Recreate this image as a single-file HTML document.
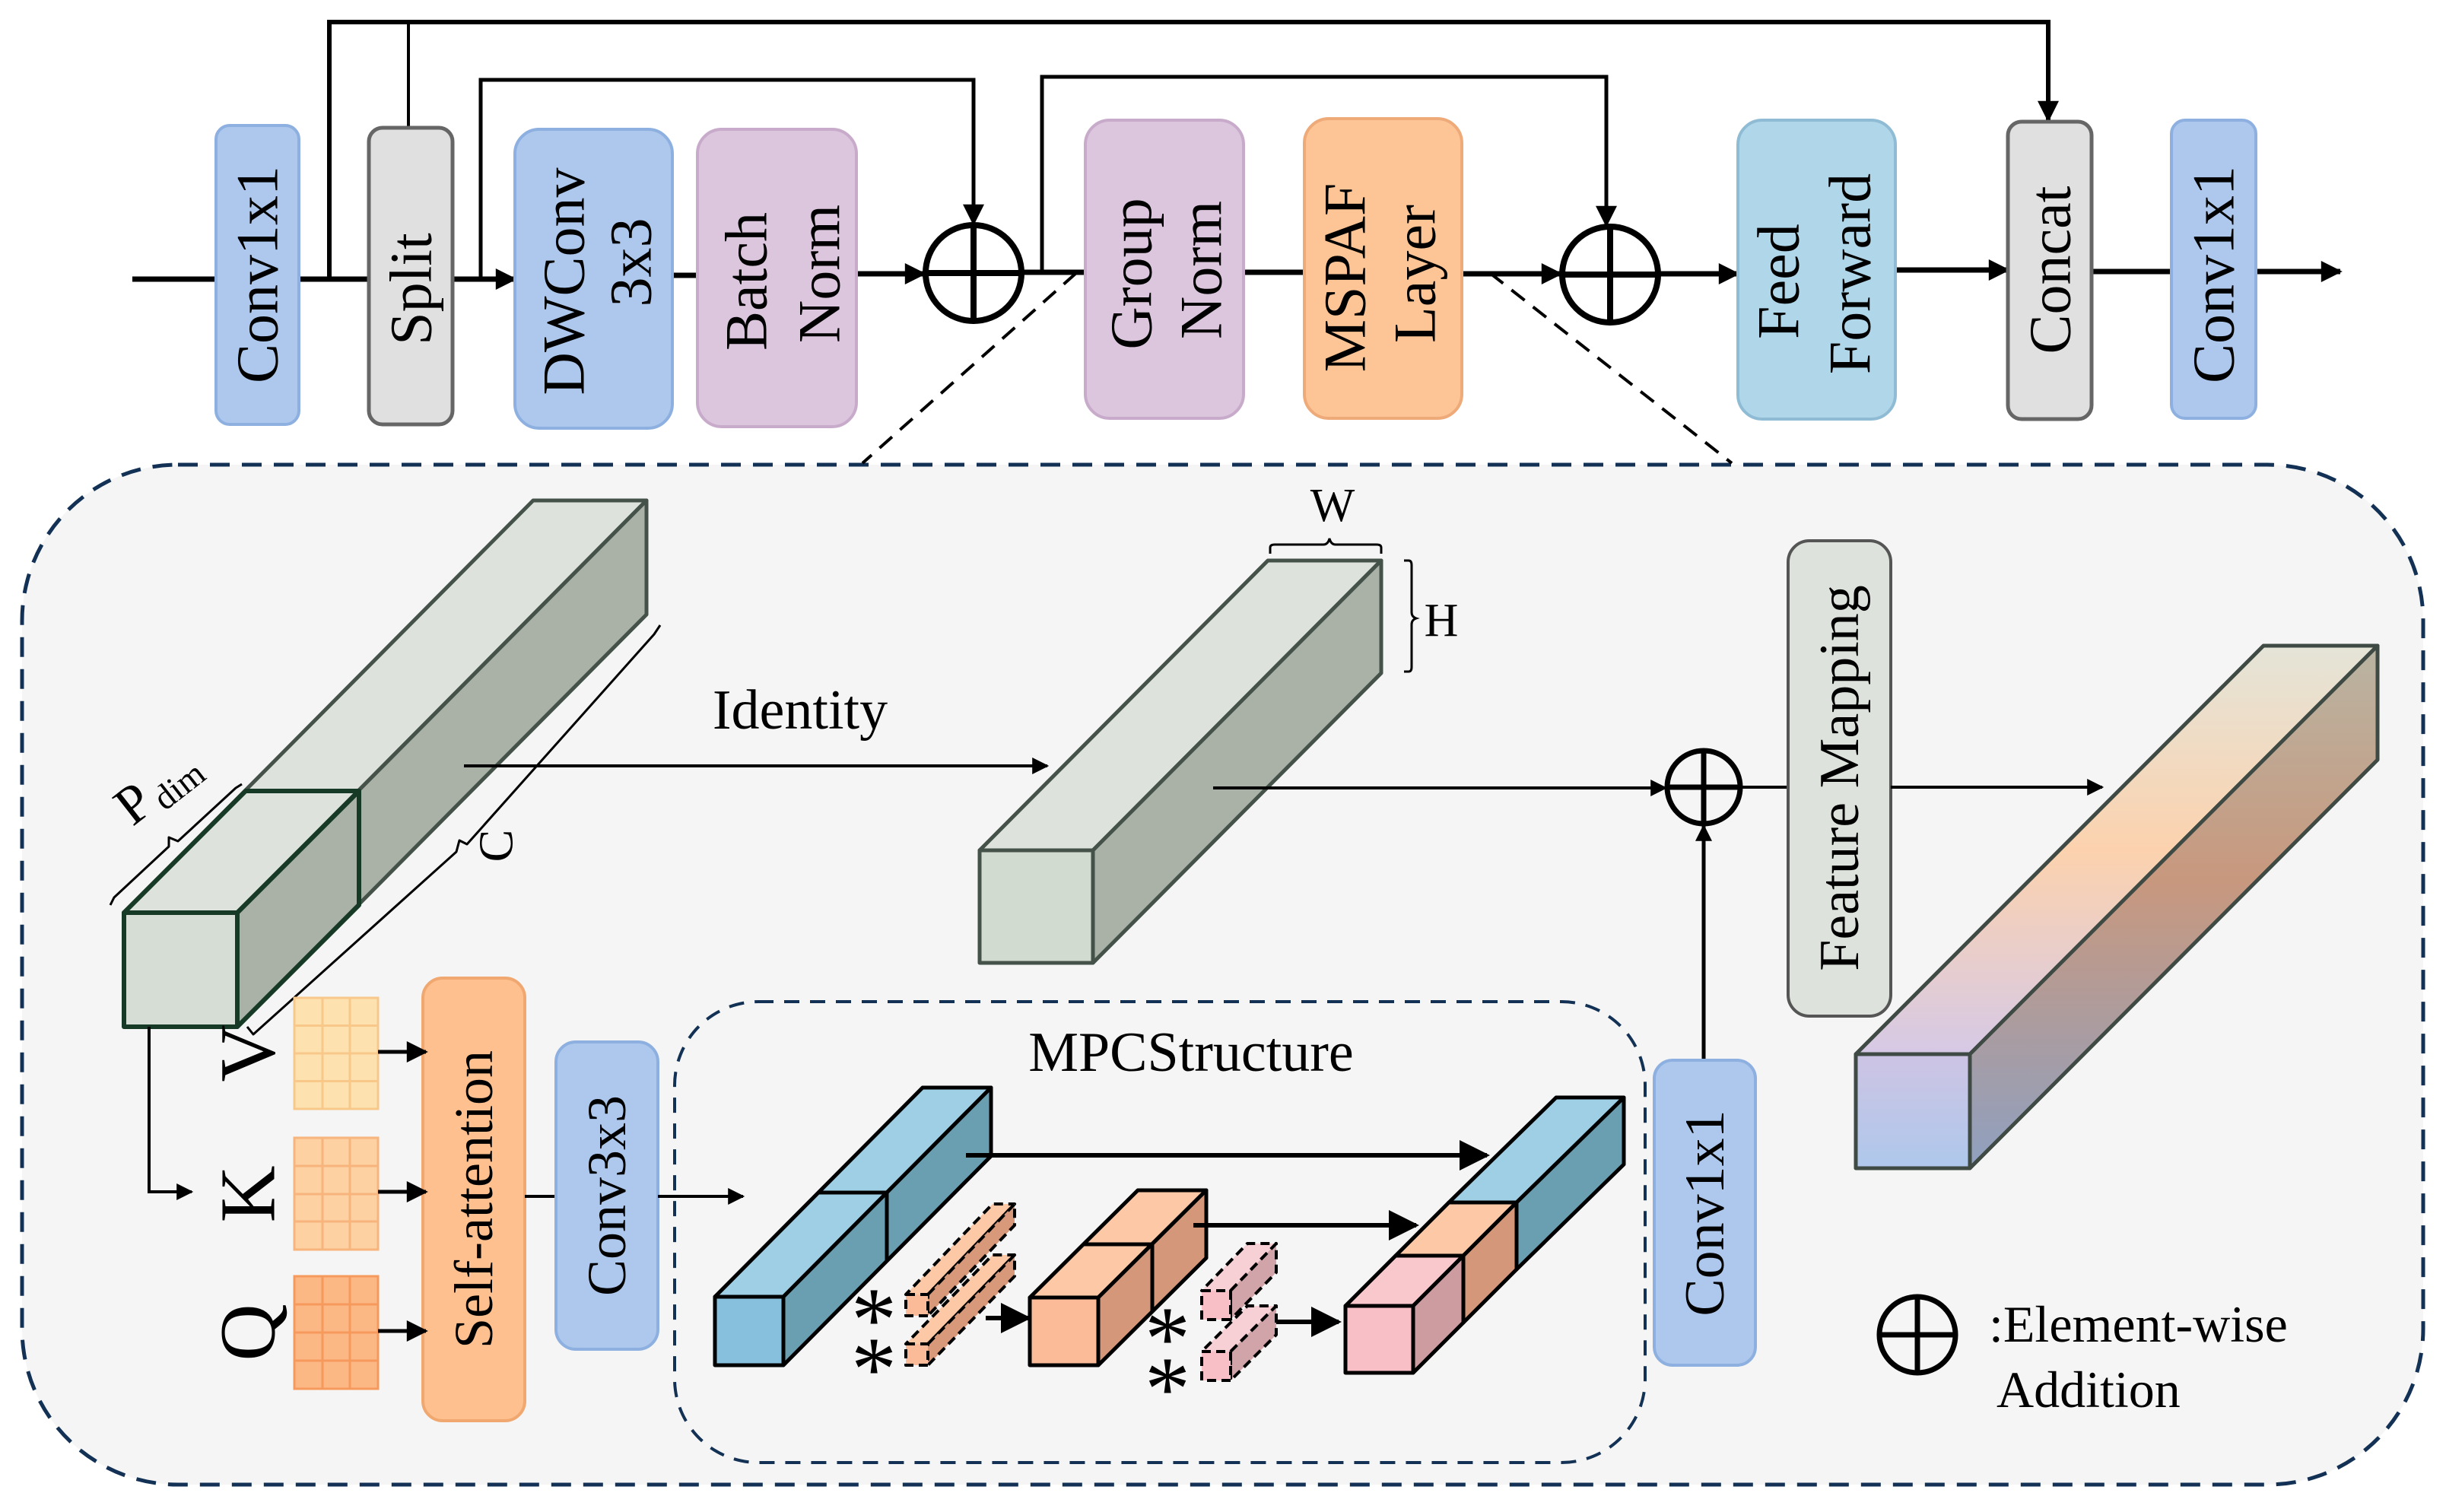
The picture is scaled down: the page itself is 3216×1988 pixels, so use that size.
<!DOCTYPE html>
<html><head><meta charset="utf-8"><style>
html,body{margin:0;padding:0;background:#fff;}
svg{display:block;}
</style></head><body>
<svg width="3216" height="1988" viewBox="0 0 3216 1988" xmlns="http://www.w3.org/2000/svg" font-family="Liberation Serif, serif">
<defs>
<marker id="ah" viewBox="0 0 10 10" refX="9" refY="5" markerWidth="34" markerHeight="28" markerUnits="userSpaceOnUse" orient="auto"><path d="M0,0L10,5L0,10z" fill="#000"/></marker>
<marker id="as" viewBox="0 0 10 10" refX="9" refY="5" markerWidth="26" markerHeight="22" markerUnits="userSpaceOnUse" orient="auto"><path d="M0,0L10,5L0,10z" fill="#000"/></marker>
<marker id="ab" viewBox="0 0 10 10" refX="9" refY="5" markerWidth="44" markerHeight="40" markerUnits="userSpaceOnUse" orient="auto"><path d="M0,0L10,5L0,10z" fill="#000"/></marker>
<linearGradient id="gTop" x1="0" y1="1" x2="0" y2="0"><stop offset="0" stop-color="#d6c9e6"/><stop offset="0.5" stop-color="#fcd2ae"/><stop offset="1" stop-color="#e4e4d8"/></linearGradient>
<linearGradient id="gSide" x1="0" y1="1" x2="0" y2="0"><stop offset="0" stop-color="#8fa0c0"/><stop offset="0.55" stop-color="#c8987e"/><stop offset="1" stop-color="#b9b4a2"/></linearGradient>
<linearGradient id="gFront" x1="0" y1="0" x2="0" y2="1"><stop offset="0" stop-color="#cec4e4"/><stop offset="1" stop-color="#aec8ec"/></linearGradient>
</defs>

<rect x="29" y="611" width="3157" height="1341" rx="205" fill="#f5f5f5" stroke="#123154" stroke-width="5" stroke-dasharray="26,16"/>
<line x1="1415" y1="359" x2="1134" y2="609" stroke="#000" stroke-width="4" stroke-dasharray="22,14"/>
<line x1="1959" y1="359" x2="2277" y2="609" stroke="#000" stroke-width="4" stroke-dasharray="22,14"/>

<g stroke="#000" fill="none">
<polyline points="433,367 433,29 2693,29 2693,158" stroke-width="6" marker-end="url(#ah)"/>
<line x1="537" y1="29" x2="537" y2="168" stroke-width="4"/>
<polyline points="632,367 632,105 1280,105 1280,294" stroke-width="5" marker-end="url(#ah)"/>
<polyline points="1370,359 1370,101 2112,101 2112,296" stroke-width="5" marker-end="url(#ah)"/>
<line x1="174" y1="367" x2="284" y2="367" stroke-width="7"/>
<line x1="393" y1="367" x2="484" y2="367" stroke-width="7"/>
<line x1="595" y1="367" x2="677" y2="367" stroke-width="7" marker-end="url(#ah)"/>
<line x1="884" y1="362" x2="916" y2="362" stroke-width="7"/>
<line x1="1126" y1="360" x2="1215" y2="360" stroke-width="7" marker-end="url(#ah)"/>
<line x1="1345" y1="358" x2="1427" y2="358" stroke-width="7"/>
<line x1="1635" y1="358" x2="1715" y2="358" stroke-width="7"/>
<line x1="1922" y1="360" x2="2052" y2="360" stroke-width="7" marker-end="url(#ah)"/>
<line x1="2182" y1="360" x2="2285" y2="360" stroke-width="7" marker-end="url(#ah)"/>
<line x1="2492" y1="355" x2="2640" y2="355" stroke-width="7" marker-end="url(#ah)"/>
<line x1="2750" y1="357" x2="2855" y2="357" stroke-width="7"/>
<line x1="2966" y1="357" x2="3077" y2="357" stroke-width="7" marker-end="url(#ah)"/>
</g>

<rect x="284" y="165" width="109" height="393" rx="18" fill="#adc8ec" stroke="#8db0e0" stroke-width="4"/>
<rect x="485" y="168" width="110" height="390" rx="18" fill="#e0e0e0" stroke="#666" stroke-width="5"/>
<rect x="677" y="170" width="207" height="393" rx="32" fill="#adc8ec" stroke="#8db0e0" stroke-width="4"/>
<rect x="917" y="170" width="209" height="391" rx="32" fill="#dcc6de" stroke="#c8aacb" stroke-width="4"/>
<rect x="1427" y="158" width="208" height="392" rx="32" fill="#dcc6de" stroke="#c8aacb" stroke-width="4"/>
<rect x="1715" y="156" width="207" height="394" rx="32" fill="#fdc596" stroke="#eeaa78" stroke-width="4"/>
<rect x="2285" y="158" width="207" height="393" rx="32" fill="#b0d6ea" stroke="#8fbcd4" stroke-width="4"/>
<rect x="2640" y="160" width="110" height="391" rx="18" fill="#e0e0e0" stroke="#666" stroke-width="5"/>
<rect x="2855" y="158" width="111" height="392" rx="18" fill="#adc8ec" stroke="#8db0e0" stroke-width="4"/>

<g font-size="78" text-anchor="middle" dominant-baseline="central">
<text transform="translate(338,361) rotate(-90)">Conv1x1</text>
<text transform="translate(540,380) rotate(-90)">Split</text>
<text transform="translate(741,370) rotate(-90)">DWConv</text>
<text transform="translate(829,345) rotate(-90)">3x3</text>
<text transform="translate(981,370) rotate(-90)">Batch</text>
<text transform="translate(1077,360) rotate(-90)">Norm</text>
<text transform="translate(1487,360) rotate(-90)">Group</text>
<text transform="translate(1579,355) rotate(-90)">Norm</text>
<text transform="translate(1768,365) rotate(-90)">MSPAF</text>
<text transform="translate(1860,360) rotate(-90)">Layer</text>
<text transform="translate(2338,370) rotate(-90)">Feed</text>
<text transform="translate(2432,360) rotate(-90)">Forward</text>
<text transform="translate(2695,355) rotate(-90)">Concat</text>
<text transform="translate(2910,361) rotate(-90)">Conv1x1</text>
</g>

<g stroke="#000" stroke-width="8" fill="none">
<circle cx="1280" cy="359" r="63"/><line x1="1217" y1="359" x2="1343" y2="359"/><line x1="1280" y1="296" x2="1280" y2="422"/>
<circle cx="2117" cy="361" r="63"/><line x1="2054" y1="361" x2="2180" y2="361"/><line x1="2117" y1="298" x2="2117" y2="424"/>
</g>

<g stroke="#44524a" stroke-width="5" stroke-linejoin="round">
<polygon points="163,1200 312,1200 850,658 701,658" fill="#dde3dc"/>
<polygon points="312,1200 850,658 850,808 312,1350" fill="#aab1a7"/>
<rect x="163" y="1200" width="149" height="150" fill="#d6ddd4"/>
</g>
<g stroke="#173a26" stroke-width="6" fill="none" stroke-linejoin="round">
<polygon points="163,1200 312,1200 472,1040 323,1040"/>
<polygon points="312,1200 472,1040 472,1190 312,1350"/>
<rect x="163" y="1200" width="149" height="150"/>
</g>
<g stroke="#000" stroke-width="3" fill="none" stroke-linejoin="round">
<polyline points="145,1190 150,1180 222,1113 222,1101 234,1106 310,1036 318,1031"/>
<polyline points="325,1350 333,1360 600,1120 604,1105 614,1110 860,834 868,822"/>
</g>
<text transform="translate(190,1075) rotate(-38)" font-size="72" text-anchor="middle">P</text>
<text transform="translate(245,1045) rotate(-38)" font-size="46" text-anchor="middle">dim</text>
<text transform="translate(652,1112) rotate(-90)" font-size="64" text-anchor="middle" dominant-baseline="central">C</text>

<text x="1052" y="958" font-size="74" text-anchor="middle">Identity</text>
<line x1="610" y1="1007" x2="1377" y2="1007" stroke="#000" stroke-width="4" marker-end="url(#as)"/>

<g stroke="#44524a" stroke-width="5" stroke-linejoin="round">
<polygon points="1288,1118 1437,1118 1816,737 1667,737" fill="#dde3dc"/>
<polygon points="1437,1118 1816,737 1816,885 1437,1266" fill="#aab1a7"/>
<rect x="1288" y="1118" width="149" height="148" fill="#d2dbd0"/>
</g>
<g stroke="#000" stroke-width="3" fill="none">
<path d="M1670,728 v-8 q0,-4 6,-4 h64 q6,0 8,-8 q2,8 8,8 h54 q6,0 6,4 v8"/>
<path d="M1846,737 h6 q4,0 4,6 v62 q0,6 6,8 q-6,2 -6,8 v56 q0,6 -4,6 h-6"/>
</g>
<text x="1752" y="685" font-size="62" text-anchor="middle">W</text>
<text x="1895" y="836" font-size="62" text-anchor="middle">H</text>
<line x1="1595" y1="1036" x2="2190" y2="1036" stroke="#000" stroke-width="4" marker-end="url(#as)"/>

<g stroke="#000" stroke-width="7" fill="none">
<circle cx="2240" cy="1035" r="48"/><line x1="2192" y1="1035" x2="2288" y2="1035"/><line x1="2240" y1="987" x2="2240" y2="1083"/>
</g>
<line x1="2288" y1="1035" x2="2351" y2="1035" stroke="#000" stroke-width="4"/>
<line x1="2240" y1="1394" x2="2240" y2="1086" stroke="#000" stroke-width="5" marker-end="url(#as)"/>

<rect x="2351" y="711" width="135" height="625" rx="28" fill="#dde3dc" stroke="#555" stroke-width="4"/>
<text transform="translate(2419,1023) rotate(-90)" font-size="74" text-anchor="middle" dominant-baseline="central">Feature Mapping</text>
<line x1="2486" y1="1035" x2="2764" y2="1035" stroke="#000" stroke-width="4" marker-end="url(#as)"/>

<g stroke="#3f4a44" stroke-width="5" stroke-linejoin="round">
<polygon points="2440,1386 2590,1386 3126,849 2976,849" fill="url(#gTop)"/>
<polygon points="2590,1386 3126,849 3126,999 2590,1536" fill="url(#gSide)"/>
<rect x="2440" y="1386" width="150" height="150" fill="url(#gFront)"/>
</g>

<rect x="2175" y="1394" width="133" height="401" rx="24" fill="#adc8ec" stroke="#8db0e0" stroke-width="4"/>
<text transform="translate(2242,1595) rotate(-90)" font-size="74" text-anchor="middle" dominant-baseline="central">Conv1x1</text>

<g stroke="#000" stroke-width="7" fill="none">
<circle cx="2521" cy="1755" r="50"/><line x1="2471" y1="1755" x2="2571" y2="1755"/><line x1="2521" y1="1705" x2="2521" y2="1805"/>
</g>
<text x="2615" y="1764" font-size="68">:Element-wise</text>
<text x="2625" y="1850" font-size="68">Addition</text>

<polyline points="196,1350 196,1567 252,1567" fill="none" stroke="#000" stroke-width="4" marker-end="url(#as)"/>
<g font-size="104" text-anchor="middle" dominant-baseline="central">
<text transform="translate(326,1385) rotate(-90)">V</text>
<text transform="translate(326,1570) rotate(-90)">K</text>
<text transform="translate(326,1752) rotate(-90)">Q</text>
</g>
<g stroke-width="3">
<g fill="#fde2b0" stroke="#f8c88a">
<rect x="387" y="1312" width="110" height="146"/>
<path d="M424,1312V1458M460,1312V1458M387,1348.5H497M387,1385H497M387,1421.5H497" fill="none"/>
</g>
<g fill="#fdd1a2" stroke="#f7b47c">
<rect x="387" y="1496" width="110" height="147"/>
<path d="M424,1496V1643M460,1496V1643M387,1533H497M387,1570H497M387,1606H497" fill="none"/>
</g>
<g fill="#fbb784" stroke="#f59a5c">
<rect x="387" y="1678" width="110" height="148"/>
<path d="M424,1678V1826M460,1678V1826M387,1715H497M387,1752H497M387,1789H497" fill="none"/>
</g>
</g>
<rect x="556" y="1286" width="134" height="582" rx="26" fill="#fdc08e" stroke="#f0a870" stroke-width="4"/>
<g stroke="#000" stroke-width="5">
<line x1="497" y1="1383" x2="560" y2="1383" marker-end="url(#ah)"/>
<line x1="497" y1="1567" x2="560" y2="1567" marker-end="url(#ah)"/>
<line x1="497" y1="1750" x2="560" y2="1750" marker-end="url(#ah)"/>
</g>
<text transform="translate(623,1577) rotate(-90)" font-size="72" text-anchor="middle" dominant-baseline="central">Self-attention</text>
<line x1="690" y1="1573" x2="731" y2="1573" stroke="#000" stroke-width="4"/>
<rect x="731" y="1370" width="134" height="404" rx="26" fill="#adc8ec" stroke="#8db0e0" stroke-width="4"/>
<text transform="translate(798,1572) rotate(-90)" font-size="72" text-anchor="middle" dominant-baseline="central">Conv3x3</text>
<line x1="865" y1="1573" x2="977" y2="1573" stroke="#000" stroke-width="4" marker-end="url(#as)"/>

<rect x="887" y="1317" width="1276" height="606" rx="110" fill="none" stroke="#123154" stroke-width="4" stroke-dasharray="20,14"/>
<text x="1566" y="1408" font-size="74" text-anchor="middle">MPCStructure</text>

<g stroke="#000" stroke-width="5" stroke-linejoin="round">
<polygon points="940,1705 1030,1705 1303,1430 1213,1430" fill="#9ecfe4"/>
<polygon points="1030,1705 1303,1430 1303,1520 1030,1795" fill="#6a9fb2"/>
<rect x="940" y="1705" width="90" height="90" fill="#86c0dc"/>
<path d="M1076,1568H1166V1658" fill="none"/>
<polygon points="1354,1706 1444,1706 1586,1565 1496,1565" fill="#fcc8a6"/>
<polygon points="1444,1706 1586,1565 1586,1654 1444,1795" fill="#d4977a"/>
<rect x="1354" y="1706" width="90" height="89" fill="#fbbb98"/>
<path d="M1425,1636H1515V1725" fill="none"/>
<polygon points="1905,1581 1994,1581 2135,1443 2046,1443" fill="#9ecfe4"/>
<polygon points="1994,1581 2135,1443 2135,1531 1994,1669" fill="#6a9fb2"/>
<polygon points="1835,1651 1924,1651 1994,1581 1905,1581" fill="#fcc8a6"/>
<polygon points="1924,1651 1994,1581 1994,1669 1924,1739" fill="#d4977a"/>
<polygon points="1769,1717 1858,1717 1924,1651 1835,1651" fill="#f9c8cc"/>
<polygon points="1858,1717 1924,1651 1924,1739 1858,1805" fill="#cc9ca0"/>
<rect x="1769" y="1717" width="89" height="88" fill="#f8c0c6"/>
</g>
<g stroke="#000" stroke-width="6">
<line x1="1270" y1="1519" x2="1955" y2="1519" marker-end="url(#ab)"/>
<line x1="1569" y1="1611" x2="1862" y2="1611" marker-end="url(#ab)"/>
<line x1="1296" y1="1733" x2="1352" y2="1733" marker-end="url(#ab)"/>
<line x1="1671" y1="1738" x2="1760" y2="1738" marker-end="url(#ab)"/>
</g>
<g stroke="#000" stroke-width="4" stroke-dasharray="12,7" stroke-linejoin="round">
<polygon points="1191,1702 1220,1702 1334,1583 1305,1583" fill="#fcc8a6"/>
<polygon points="1220,1702 1334,1583 1334,1611 1220,1730" fill="#d8987a"/>
<rect x="1191" y="1702" width="29" height="28" fill="#fbbb98"/>
<polygon points="1191,1767 1220,1767 1334,1650 1305,1650" fill="#fcc8a6"/>
<polygon points="1220,1767 1334,1650 1334,1678 1220,1795" fill="#d8987a"/>
<rect x="1191" y="1767" width="29" height="28" fill="#fbbb98"/>
<polygon points="1580,1697 1618,1697 1678,1635 1640,1635" fill="#f6d0d4"/>
<polygon points="1618,1697 1678,1635 1678,1673 1618,1735" fill="#d0a4a8"/>
<rect x="1580" y="1697" width="38" height="38" fill="#f8c0c6"/>
<polygon points="1580,1777 1618,1777 1678,1717 1640,1717" fill="#f6d0d4"/>
<polygon points="1618,1777 1678,1717 1678,1755 1618,1815" fill="#d0a4a8"/>
<rect x="1580" y="1777" width="38" height="38" fill="#f8c0c6"/>
</g>
<g font-size="120" text-anchor="middle">
<text x="1149" y="1775">*</text>
<text x="1149" y="1840">*</text>
<text x="1535" y="1800">*</text>
<text x="1535" y="1866">*</text>
</g>
</svg>
</body></html>
